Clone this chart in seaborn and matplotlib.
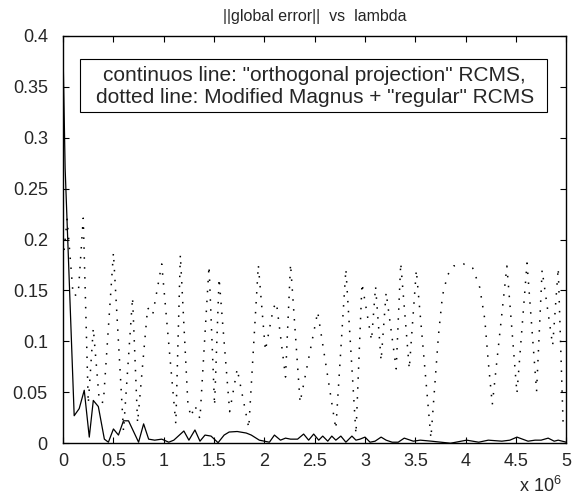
import matplotlib
matplotlib.use("Agg")
import numpy as np
import pandas as pd
import matplotlib.pyplot as plt
import seaborn as sns
from matplotlib.patches import Rectangle

# lambda values in units of 1e6
dot_x = [0.0, 0.04, 0.10, 0.15, 0.20, 0.25, 0.30, 0.36, 0.40, 0.50, 0.60, 0.69, 0.74, 0.84,
         0.89, 0.98, 1.12, 1.165, 1.24, 1.27, 1.31, 1.36, 1.45, 1.505, 1.55, 1.655, 1.73,
         1.845, 1.94, 2.01, 2.09, 2.12, 2.21, 2.26, 2.355, 2.53, 2.71, 2.81, 2.91, 2.97,
         3.065, 3.105, 3.16, 3.21, 3.31, 3.355, 3.44, 3.51, 3.655, 3.73, 3.77, 3.82, 3.88,
         3.98, 4.07, 4.14, 4.19, 4.225, 4.265, 4.41, 4.51, 4.61, 4.705, 4.76, 4.865, 4.92, 4.97]
dot_y = [0.18, 0.22, 0.145, 0.146, 0.221, 0.039, 0.113, 0.041, 0.040, 0.187, 0.012, 0.143,
         0.02, 0.133, 0.126, 0.176, 0.019, 0.185, 0.039, 0.026, 0.037, 0.024, 0.174, 0.037,
         0.162, 0.031, 0.073, 0.015, 0.175, 0.091, 0.133, 0.138, 0.065, 0.176, 0.040, 0.129,
         0.014, 0.171, 0.009, 0.157, 0.101, 0.154, 0.081, 0.148, 0.073, 0.177, 0.073, 0.170,
         0.005, 0.106, 0.145, 0.165, 0.174, 0.176, 0.172, 0.153, 0.122, 0.080, 0.038, 0.174,
         0.049, 0.177, 0.051, 0.170, 0.096, 0.172, 0.015]

sol_x = [0.0, 0.02, 0.11, 0.16, 0.21, 0.26, 0.30, 0.35, 0.41, 0.45, 0.50, 0.55, 0.60, 0.65,
         0.75, 0.80, 0.85, 0.91, 0.98, 1.05, 1.10, 1.20, 1.25, 1.31, 1.36, 1.41, 1.47, 1.54,
         1.60, 1.65, 1.73, 1.82, 1.87, 1.95, 2.05, 2.10, 2.16, 2.21, 2.26, 2.33, 2.39, 2.44,
         2.49, 2.54, 2.58, 2.63, 2.67, 2.71, 2.76, 2.81, 2.87, 2.91, 2.95, 3.0, 3.05, 3.10,
         3.16, 3.21, 3.27, 3.33, 3.39, 3.48, 3.55, 3.66, 3.85, 4.01, 4.13, 4.225, 4.36, 4.44,
         4.51, 4.62, 4.69, 4.75, 4.82, 4.88, 4.92, 5.0]
sol_y = [0.38, 0.27, 0.027, 0.034, 0.052, 0.006, 0.042, 0.036, 0.004, 0.001, 0.014, 0.008,
         0.022, 0.022, 0.001, 0.019, 0.004, 0.003, 0.004, 0.001, 0.003, 0.012, 0.003, 0.013,
         0.002, 0.008, 0.007, 0.0005, 0.008, 0.011, 0.0115, 0.010, 0.008, 0.003, 0.001, 0.008,
         0.003, 0.005, 0.004, 0.004, 0.009, 0.003, 0.009, 0.003, 0.007, 0.002, 0.007, 0.003,
         0.007, 0.001, 0.007, 0.003, 0.004, 0.006, 0.001, 0.002, 0.006, 0.003, 0.001, 0.001,
         0.005, 0.002, 0.003, 0.002, 0.0, 0.003, 0.001, 0.003, 0.002, 0.003, 0.006, 0.002,
         0.003, 0.003, 0.005, 0.002, 0.003, 0.001]

x_ticks = [0, 0.5, 1, 1.5, 2, 2.5, 3, 3.5, 4, 4.5, 5]
y_ticks = [0, 0.05, 0.1, 0.15, 0.2, 0.25, 0.3, 0.35, 0.4]

sns.set_style("ticks")
plt.rcParams['font.family'] = ['Liberation Sans', 'DejaVu Sans']
plt.rcParams['mathtext.fontset'] = 'custom'
plt.rcParams['mathtext.rm'] = 'Liberation Sans'
plt.rcParams['xtick.direction'] = 'in'
plt.rcParams['ytick.direction'] = 'in'
plt.rcParams['xtick.top'] = True
plt.rcParams['ytick.right'] = True

fig = plt.figure(figsize=(5.79, 4.98), dpi=100)
ax = fig.add_axes([0.109, 0.11, 0.869, 0.818])

df_dot = pd.DataFrame({'lam': dot_x, 'err': dot_y})
df_sol = pd.DataFrame({'lam': sol_x, 'err': sol_y})

# dotted: Modified Magnus, solid: orthogonal projection
sns.lineplot(data=df_dot, x='lam', y='err', ax=ax, color='black', linewidth=1.1,
             linestyle=(0, (1, 5.5)), estimator=None, sort=False)
sns.lineplot(data=df_sol, x='lam', y='err', ax=ax, color='black', linewidth=0.9,
             estimator=None, sort=False)

ax.set_xlim(0, 5)
ax.set_ylim(0, 0.4)
ax.set_xticks(x_ticks)
ax.set_xticklabels(['%g' % t for t in x_ticks])
ax.set_yticks(y_ticks)
ax.set_yticklabels(['%g' % t for t in y_ticks])
ax.tick_params(labelsize=13, length=4, width=0.8, color='black')
ax.tick_params(axis='x', pad=7)
ax.tick_params(axis='y', pad=11)
ax.set_xlabel('')
ax.set_ylabel('')
for s in ax.spines.values():
    s.set_linewidth(1.0)
    s.set_color('black')

ax.set_title('||global error||  vs  lambda', fontsize=11.5, pad=11)

# legend-like annotation box
ax.add_patch(Rectangle((0.034, 0.813), 0.928, 0.129, transform=ax.transAxes,
                       facecolor='white', edgecolor='black', linewidth=0.8, zorder=5))
ax.text(0.5, 0.902, 'continuos line: "orthogonal projection" RCMS,', transform=ax.transAxes,
        ha='center', va='center', fontsize=15, zorder=6)
ax.text(0.5, 0.848, 'dotted line: Modified Magnus + "regular" RCMS', transform=ax.transAxes,
        ha='center', va='center', fontsize=15, zorder=6)

ax.text(0.99, -0.105, r'x 10$^{\mathrm{6}}$', transform=ax.transAxes,
        ha='right', va='center', fontsize=13)

fig.savefig('out.png', dpi=100)
